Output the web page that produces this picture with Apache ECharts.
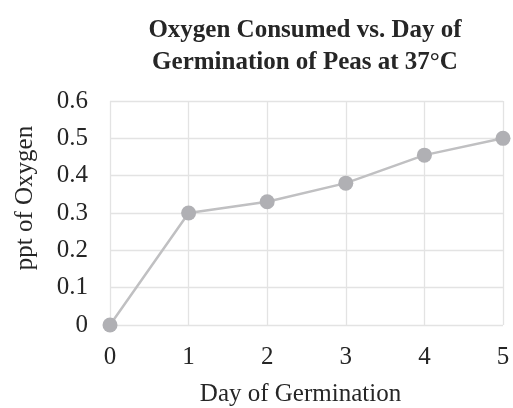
<!DOCTYPE html>
<html><head><meta charset="utf-8">
<script src="https://cdn.jsdelivr.net/npm/echarts@6/dist/echarts.min.js"></script>
<style>html,body{margin:0;padding:0;background:#fff}#c{width:513px;height:408px}</style>
</head><body><div id="c"></div>
<script>
const days = [0, 1, 2, 3, 4, 5];
const oxygen = [0, 0.30, 0.33, 0.38, 0.455, 0.50];
const titleText = 'Oxygen Consumed vs. Day of\nGermination of Peas at 37°C';
const xName = 'Day of Germination';
const yName = 'ppt of Oxygen';

const chart = echarts.init(document.getElementById('c'));
const font = '"Liberation Serif", "Times New Roman", serif';
chart.setOption({
  animation: false,
  title: {
    text: titleText, left: 300, top: 10, textAlign: 'center',
    textStyle: {fontFamily: font, fontWeight: 'bold', fontSize: 25, color: '#262626', lineHeight: 32}
  },
  grid: {left: 110, right: 10, top: 101, bottom: 83, containLabel: false, outerBoundsMode: 'none'},
  xAxis: {
    type: 'value', min: 0, max: 5, interval: 1,
    name: xName, nameLocation: 'middle', nameGap: 57,
    nameTextStyle: {fontFamily: font, fontSize: 25, color: '#262626', padding: [0, 12, 0, 0]},
    axisLine: {show: false}, axisTick: {show: false},
    axisLabel: {fontFamily: font, fontSize: 25, color: '#262626', margin: 20},
    splitLine: {show: true, lineStyle: {color: '#e3e3e3', width: 1.3}}
  },
  yAxis: {
    type: 'value', min: 0, max: 0.6, interval: 0.1,
    name: yName, nameLocation: 'middle', nameGap: 72, nameRotate: 90,
    nameTextStyle: {fontFamily: font, fontSize: 25, color: '#262626', padding: [0, 0, 0, 30]},
    axisLine: {show: false}, axisTick: {show: false},
    axisLabel: {fontFamily: font, fontSize: 25, color: '#262626', margin: 22,
      formatter: v => String(Math.round(v * 10) / 10)},
    splitLine: {show: true, lineStyle: {color: '#e3e3e3', width: 1.3}}
  },
  series: [{
    type: 'line',
    data: days.map((d, i) => [d, oxygen[i]]),
    symbol: 'circle', symbolSize: 15,
    lineStyle: {color: '#c0c0c2', width: 2.5},
    itemStyle: {color: '#b0b0b4'}
  }]
});
</script></body></html>
